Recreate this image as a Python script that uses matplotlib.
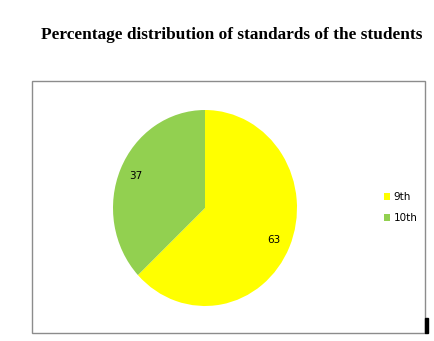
import matplotlib
matplotlib.use('Agg')
import matplotlib.pyplot as plt
from matplotlib.patches import Rectangle

standards = ['9th', '10th']
percent = [63, 37]
colors = ['#ffff00', '#92d050']

W, H = 435, 341
fig = plt.figure(figsize=(W / 100, H / 100), dpi=100)

fig.text(232 / W, 1 - 35 / H, 'Percentage distribution of standards of the students',
         ha='center', va='center', fontsize=12.4, fontweight='bold',
         family='Liberation Serif')

# chart border
fig.patches.append(Rectangle((32 / W, 1 - 333 / H), (425 - 32) / W, (333 - 81) / H,
                             transform=fig.transFigure, fill=False,
                             edgecolor='#8c8c8c', linewidth=1.0))
fig.patches.append(Rectangle((425 / W, 1 - 333 / H), 3 / W, 15 / H,
                             transform=fig.transFigure, color='black'))

cx, cy, rx, ry = 205, 208, 92, 98
ax = fig.add_axes([(cx - rx) / W, 1 - (cy + ry) / H, 2 * rx / W, 2 * ry / H])
wedges, texts, autotexts = ax.pie(percent, colors=colors, startangle=90, counterclock=False,
                                  autopct=lambda p: f'{p:.0f}', pctdistance=0.82,
                                  wedgeprops=dict(linewidth=0),
                                  textprops=dict(fontsize=7.5, family='DejaVu Sans'))
ax.set_aspect('auto')
ax.set_xlim(-1, 1)
ax.set_ylim(-1, 1)
ax.axis('off')

fig.legend(wedges, standards, loc='upper left', bbox_to_anchor=(384 / W, 1 - 192 / H),
           frameon=False, borderpad=0, borderaxespad=0, handlelength=0.6,
           handleheight=0.6, handletextpad=0.3, labelspacing=1.1,
           prop=dict(size=7.5, family='DejaVu Sans'))

fig.savefig('out.png', dpi=100)
